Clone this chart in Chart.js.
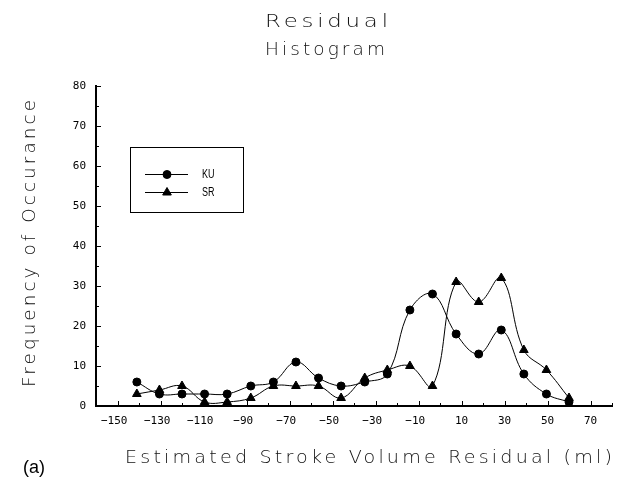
<!DOCTYPE html>
<html>
<head>
<meta charset="utf-8">
<style>
    body { margin: 0; background: #fff; }
    .chart-container { position: relative; width: 621px; height: 480px; }
</style>
</head>
<body>
<div class="chart-container">
    <canvas id="myChart" width="621" height="480"></canvas>
</div>

<script src="https://cdn.jsdelivr.net/npm/chart.js"></script>

<script>

    // bin centres (ml) and counts
    const binCenters = [-141, -130.5, -120, -109.5, -99, -88, -77.5, -67, -56.5, -46, -35, -24.5, -14, -3.5, 7.5, 18, 28.5, 39, 49.5, 60];
    const kuCounts = [6, 3, 3, 3, 3, 5, 6, 11, 7, 5, 6, 8, 24, 28, 18, 13, 19, 8, 3, 1];
    const srCounts = [3, 4, 5, 1, 1, 2, 5, 5, 5, 2, 7, 9, 10, 5, 31, 26, 32, 14, 9, 2];

    const xTickLabels = [-150, -130, -110, -90, -70, -50, -30, -10, 10, 30, 50, 70];
    const yTickLabels = [0, 10, 20, 30, 40, 50, 60, 70, 80];

    const titleLines = ['Residual', 'Histogram'];
    const xTitle = 'Estimated Stroke Volume Residual (ml)';
    const yTitle = 'Frequency of Occurance';
    const panelTag = '(a)';

    const plotterFont = '200 18px "DejaVu Sans"';
    const tickFont = { family: '"DejaVu Sans Mono"', size: 11 };

    const ctx = document.getElementById('myChart').getContext('2d');

    function toPoints(values) {
        return binCenters.map((x, i) => ({ x: x, y: values[i] }));
    }

    function formatX(v) {
        // digits centred on the tick, minus sign hanging left
        return v < 0 ? '\u2212' + Math.abs(v) + ' ' : String(v);
    }

    // wide plotter-style lettering: a little spacing, then stretch to the span
    function fitText(c, text, x, y, width, gap) {
        c.letterSpacing = '0px';
        const w0 = c.measureText(text).width;
        const total = w0 + gap * (text.length - 1);
        c.save();
        c.translate(x, y);
        c.scale(width / total, 1);
        c.letterSpacing = gap + 'px';
        c.fillText(text, 0, 0);
        c.restore();
        c.letterSpacing = '0px';
    }

    const plotterExtras = {
        id: 'plotterExtras',
        afterDraw(chart) {
            const c = chart.ctx;
            const xs = chart.scales.x;
            const ys = chart.scales.y;
            c.save();

            // inward tick marks
            c.strokeStyle = '#000';
            c.lineWidth = 1;
            xs.ticks.forEach(t => {
                const v = Math.round(t.value);
                if (v === xs.min) return;
                const px = Math.round(xs.getPixelForValue(v)) + 0.5;
                const len = xTickLabels.includes(v) ? 5 : 3;
                c.beginPath();
                c.moveTo(px, xs.top);
                c.lineTo(px, xs.top - len);
                c.stroke();
            });
            ys.ticks.forEach(t => {
                const v = Math.round(t.value);
                if (v === ys.min) return;
                const py = Math.round(ys.getPixelForValue(v)) + 0.5;
                const len = yTickLabels.includes(v) ? 5 : 3;
                c.beginPath();
                c.moveTo(ys.right, py);
                c.lineTo(ys.right + len, py);
                c.stroke();
            });

            // titles
            c.fillStyle = '#111';
            c.textBaseline = 'alphabetic';
            c.textAlign = 'left';
            c.font = plotterFont;
            fitText(c, titleLines[0], 265, 27, 123, 3);
            fitText(c, titleLines[1], 265, 55, 120, 3);
            fitText(c, xTitle, 125, 463, 487, 3);

            c.save();
            c.translate(35, 387);
            c.rotate(-Math.PI / 2);
            fitText(c, yTitle, 0, 0, 287, 3);
            c.restore();

            c.fillStyle = '#000';
            c.font = '18px "Liberation Sans"';
            c.fillText(panelTag, 23, 473);

            // legend box
            c.strokeStyle = '#000';
            c.lineWidth = 1;
            c.strokeRect(130.5, 147.5, 113, 65);
            const rows = [174, 192];
            chart.data.datasets.forEach((ds, i) => {
                const y = rows[i] + 0.5;
                c.strokeStyle = '#000';
                c.fillStyle = '#000';
                c.beginPath();
                c.moveTo(145, y);
                c.lineTo(188, y);
                c.stroke();
                Chart.helpers.drawPoint(c, {
                    pointStyle: ds.pointStyle,
                    radius: ds.pointRadius,
                    rotation: 0,
                    borderWidth: 1
                }, 167, y);
                c.save();
                c.font = '12px "Liberation Sans"';
                c.translate(202, rows[i] + 4);
                c.scale(0.75, 1);
                c.fillText(ds.label, 0, 0);
                c.restore();
            });

            c.restore();
        }
    };

    const chartInstance = new Chart(ctx, {
        type: 'line',
        data: {
            datasets: [
                {
                    label: 'KU',
                    data: toPoints(kuCounts),
                    borderColor: '#000',
                    backgroundColor: '#000',
                    borderWidth: 1,
                    pointStyle: 'circle',
                    pointRadius: 4,
                    tension: 0.4,
                    fill: false
                },
                {
                    label: 'SR',
                    data: toPoints(srCounts),
                    borderColor: '#000',
                    backgroundColor: '#000',
                    borderWidth: 1,
                    pointStyle: 'triangle',
                    pointRadius: 5,
                    tension: 0.4,
                    fill: false
                }
            ]
        },
        options: {
            responsive: false,
            animation: false,
            layout: { padding: { top: 86, right: 6, left: 0, bottom: 0 } },
            plugins: {
                legend: { display: false },
                title: { display: false },
                tooltip: { enabled: false }
            },
            scales: {
                x: {
                    type: 'linear',
                    min: -160,
                    max: 80,
                    afterFit: scale => { scale.height = 74; },
                    grid: { display: false, drawTicks: false },
                    border: { display: true, color: '#000', width: 2 },
                    ticks: {
                        stepSize: 10,
                        autoSkip: false,
                        maxRotation: 0,
                        padding: 9,
                        color: '#000',
                        font: tickFont,
                        callback: value => {
                            const v = Math.round(value);
                            return xTickLabels.includes(v) ? formatX(v) : '';
                        }
                    }
                },
                y: {
                    min: 0,
                    max: 80,
                    afterFit: scale => { scale.width = 96; },
                    grid: { display: false, drawTicks: false },
                    border: { display: true, color: '#000', width: 2 },
                    ticks: {
                        stepSize: 5,
                        autoSkip: false,
                        padding: 10,
                        color: '#000',
                        font: tickFont,
                        callback: value => {
                            const v = Math.round(value);
                            return yTickLabels.includes(v) ? String(v) : '';
                        }
                    }
                }
            }
        },
        plugins: [plotterExtras]
    });

</script>
</body>
</html>
